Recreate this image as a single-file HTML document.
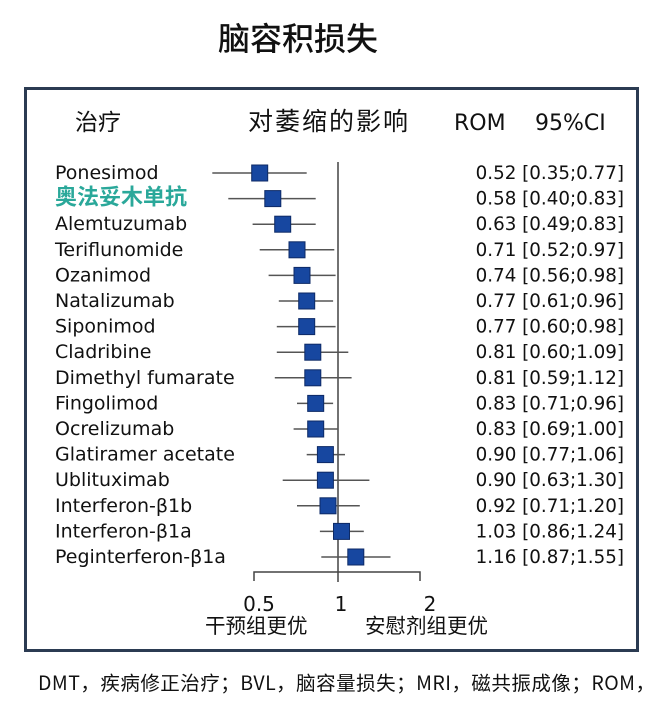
<!DOCTYPE html>
<html><head><meta charset="utf-8"><style>
html,body{margin:0;padding:0;background:#fff;}
svg{display:block;}
text{font-family:"DejaVu Sans","Noto Sans CJK SC",sans-serif;fill:#111;}
</style></head><body>
<svg width="659" height="714" viewBox="0 0 659 714" xmlns="http://www.w3.org/2000/svg">
<text x="298" y="50" font-size="32" text-anchor="middle" style="font-family:'Noto Sans CJK SC',sans-serif;font-weight:500">脑容积损失</text>
<rect x="25.5" y="88.5" width="612" height="562" fill="#fff" stroke="#2b3b52" stroke-width="3"/>
<text x="75" y="130" font-size="23" style="font-family:'Noto Sans CJK SC',sans-serif">治疗</text>
<text x="248" y="130" font-size="25" textLength="160" style="font-family:'Noto Sans CJK SC',sans-serif">对萎缩的影响</text>
<text x="454" y="130" font-size="22">ROM</text>
<text x="535" y="130" font-size="22">95%CI</text>
<g stroke="#444" stroke-width="1.5" fill="none">
<line x1="338" y1="162" x2="338" y2="582"/>
<polyline points="254,581 254,572 420,572 420,581"/>
</g>
<g id="rows" font-size="19"></g>
<text x="259" y="611" font-size="20" text-anchor="middle">0.5</text>
<text x="341" y="611" font-size="20" text-anchor="middle">1</text>
<text x="430" y="611" font-size="20" text-anchor="middle">2</text>
<text x="205" y="633" font-size="20.5" style="font-family:'Noto Sans CJK SC',sans-serif">干预组更优</text>
<text x="365" y="633" font-size="20.5" style="font-family:'Noto Sans CJK SC',sans-serif">安慰剂组更优</text>
<text x="38" y="690" font-size="19.5" textLength="617" style="font-family:'Noto Sans CJK SC',sans-serif">DMT，疾病修正治疗；BVL，脑容量损失；MRI，磁共振成像；ROM，</text>
</svg>
<script>
const d=[["Ponesimod",259.7,212.3,306.7,"0.52 [0.35;0.77]"],
["奥法妥木单抗",272.8,228.3,315.7,"0.58 [0.40;0.83]"],
["Alemtuzumab",282.7,252.6,315.7,"0.63 [0.49;0.83]"],
["Teriflunomide",297.0,259.7,334.3,"0.71 [0.52;0.97]"],
["Ozanimod",302.0,268.6,335.6,"0.74 [0.56;0.98]"],
["Natalizumab",306.7,278.8,333.1,"0.77 [0.61;0.96]"],
["Siponimod",306.7,276.8,335.6,"0.77 [0.60;0.98]"],
["Cladribine",312.8,276.8,348.3,"0.81 [0.60;1.09]"],
["Dimethyl fumarate",312.8,274.8,351.6,"0.81 [0.59;1.12]"],
["Fingolimod",315.7,297.0,333.1,"0.83 [0.71;0.96]"],
["Ocrelizumab",315.7,293.6,338,"0.83 [0.69;1.00]"],
["Glatiramer acetate",325.4,306.7,345.0,"0.90 [0.77;1.06]"],
["Ublituximab",325.4,282.7,369.4,"0.90 [0.63;1.30]"],
["Interferon-β1b",328.0,297.0,359.8,"0.92 [0.71;1.20]"],
["Interferon-β1a",341.5,319.9,363.8,"1.03 [0.86;1.24]"],
["Peginterferon-β1a",355.8,321.3,390.5,"1.16 [0.87;1.55]"]];
let s="";
d.forEach((r,i)=>{const y=173+i*25.6;
const nm=i==1?`<text x="55" y="${y+6}" style="fill:#2aa89a;font-family:'Noto Sans CJK SC',sans-serif;font-weight:bold" font-size="22">${r[0]}</text>`:`<text x="55" y="${y+6}">${r[0]}</text>`;
s+=nm+`<line x1="${r[2]}" y1="${y}" x2="${r[3]}" y2="${y}" stroke="#555" stroke-width="1.5"/>`+
`<rect x="${r[1]-8}" y="${y-8}" width="16" height="16" fill="#1747a0" stroke="#0d2a66" stroke-width="1"/>`+
`<text x="624" y="${y+6}" text-anchor="end" font-size="18.3">${r[4]}</text>`;});
document.getElementById("rows").innerHTML=s;
</script>
</body></html>
